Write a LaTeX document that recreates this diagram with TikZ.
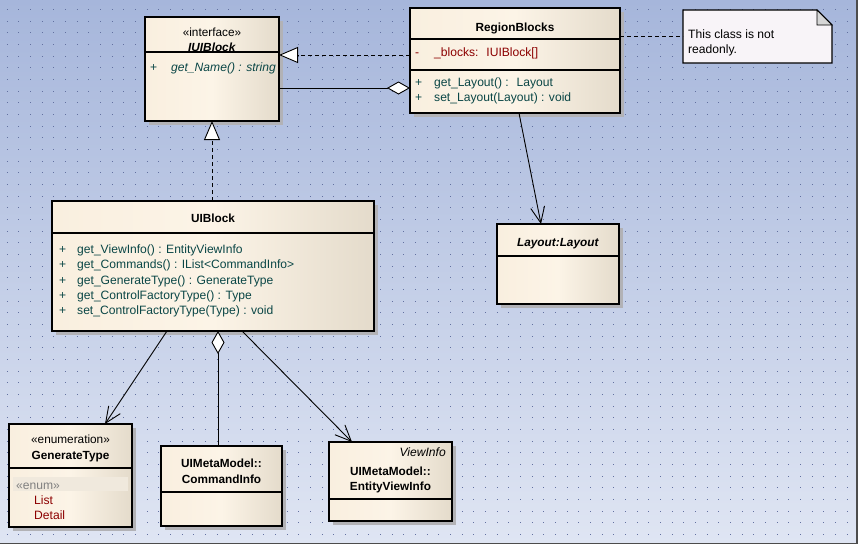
\documentclass[tikz,border=0pt]{standalone}
\usepackage{fontspec}
\setmainfont{Liberation Sans}
\usetikzlibrary{arrows.meta,shadows,calc}
\definecolor{bgT}{RGB}{166,182,219}
\definecolor{bgB}{RGB}{223,229,243}
\definecolor{dotc}{RGB}{98,112,160}
\definecolor{boxL}{RGB}{249,239,223}
\definecolor{boxM}{RGB}{252,244,231}
\definecolor{boxR}{RGB}{228,219,203}
\definecolor{shadowc}{RGB}{178,178,182}
\definecolor{opc}{RGB}{10,70,70}
\definecolor{attrc}{RGB}{140,0,0}
\definecolor{notefill}{RGB}{248,244,248}
\definecolor{foldfill}{RGB}{214,214,214}
\definecolor{enumband}{RGB}{240,233,221}
\newcommand\umlfont{\fontsize{12.1}{14}\selectfont}
\newcommand\umlbfont{\fontsize{11.8}{14}\selectfont}
\tikzset{
  classbox/.style={draw=black, line width=1.3pt, anchor=north west, inner sep=0pt, outer sep=0pt,
    left color=boxL, right color=boxR, middle color=boxM,
    drop shadow={shadow xshift=4pt, shadow yshift=-4pt, fill=shadowc, opacity=1}},
  sepline/.style={draw=black, line width=1.3pt},
  tw/.style={inner sep=0pt, anchor=base west, font=\umlfont},
  tc/.style={inner sep=0pt, anchor=base, font=\umlbfont},
  te/.style={inner sep=0pt, anchor=base east, font=\umlfont},
  conn/.style={draw=black, line width=0.9pt},
  realize/.style={conn, dash pattern=on 4pt off 3pt, -{Triangle[length=19pt,width=16pt,fill=white,line width=0.9pt]}},
  aggr/.style={conn, -{Diamond[length=23pt,width=13pt,fill=white,line width=0.9pt]}},
  assoc/.style={conn, -{Straight Barb[length=16pt,width=14pt,line width=0.9pt]}},
  notelink/.style={conn, dash pattern=on 4pt off 3pt}
}
\begin{document}
\begin{tikzpicture}[x=1pt,y=-1pt]
\useasboundingbox (0,0) rectangle (860,547);
\fill[white] (0,0) rectangle (860,547);
\shade[top color=bgT, bottom color=bgB] (0,0) rectangle (856,543);
\foreach \k in {0,...,45}
  \draw[dotc, line width=1pt, dash pattern=on 1pt off 10.667pt] (6.8,{9.33+11.667*\k}) -- (852,{9.33+11.667*\k});
\draw[line width=1.5pt, black!70] (0,543.5) -- (857,543.5) -- (857,0);

% ---------- IUIBlock
\node[classbox, minimum width=134pt, minimum height=104pt] (iuib) at (145,17) {};
\draw[sepline] (iuib.west |- 0,52) -- (iuib.east |- 0,52);
\node[tc] (iuibs) at (212,36) {«interface»};
\node[tc] (iuibn) at (212,51) {\textbf{\textit{IUIBlock}}};
\node[tw, opc] (iuibp) at (150,71) {+};
\node[tw, opc] (iuibo) at (171,71) {\textit{get\_Name() : string}};

% ---------- RegionBlocks
\node[classbox, minimum width=210pt, minimum height=105pt] (rb) at (410,8) {};
\draw[sepline] (rb.west |- 0,39) -- (rb.east |- 0,39);
\draw[sepline] (rb.west |- 0,70) -- (rb.east |- 0,70);
\node[tc] (rbn) at (515,31) {\textbf{RegionBlocks}};
\node[tw, attrc] (rbam) at (415,56) {-};
\node[tw, attrc] (rba) at (434,56) {\_blocks:~ IUIBlock[]};
\node[tw, opc] (rbp1) at (415,86) {+};
\node[tw, opc] (rbo1) at (434,86) {get\_Layout() :~ Layout};
\node[tw, opc] (rbp2) at (415,101.5) {+};
\node[tw, opc] (rbo2) at (434,101.5) {set\_Layout(Layout) : void};

% ---------- Note
\node[inner sep=0pt, outer sep=0pt, anchor=north west, minimum width=149pt, minimum height=53pt] (note) at (683,10) {};
\draw[line width=1.1pt, fill=notefill] (note.north west) -- ([xshift=-15pt]note.north east) -- ([yshift=-15pt]note.north east) -- (note.south east) -- (note.south west) -- cycle;
\draw[line width=0.8pt, fill=foldfill] ([xshift=-15pt]note.north east) -- ([xshift=-15pt,yshift=-15pt]note.north east) -- ([yshift=-15pt]note.north east) -- cycle;
\node[tw] (nt1) at (688,38) {This class is not};
\node[tw] (nt2) at (688,53) {readonly.};

% ---------- Layout
\node[classbox, minimum width=122pt, minimum height=80pt] (lay) at (497,224) {};
\draw[sepline] (lay.west |- 0,256) -- (lay.east |- 0,256);
\node[tc] (layn) at (558,246) {\textbf{\textit{Layout:Layout}}};

% ---------- UIBlock
\node[classbox, minimum width=322pt, minimum height=130pt] (uib) at (52,201) {};
\draw[sepline] (uib.west |- 0,233) -- (uib.east |- 0,233);
\node[tc] (uibn) at (213,222) {\textbf{UIBlock}};
\node[tw, opc] (up1) at (59,253) {+};
\node[tw, opc] (uo1) at (77,253) {get\_ViewInfo() : EntityViewInfo};
\node[tw, opc] (up2) at (59,268.5) {+};
\node[tw, opc] (uo2) at (77,268.5) {get\_Commands() : IList<CommandInfo>};
\node[tw, opc] (up3) at (59,284) {+};
\node[tw, opc] (uo3) at (77,284) {get\_GenerateType() : GenerateType};
\node[tw, opc] (up4) at (59,299.5) {+};
\node[tw, opc] (uo4) at (77,299.5) {get\_ControlFactoryType() : Type};
\node[tw, opc] (up5) at (59,314.5) {+};
\node[tw, opc] (uo5) at (77,314.5) {set\_ControlFactoryType(Type) : void};

% ---------- GenerateType
\node[classbox, minimum width=123pt, minimum height=103pt] (gen) at (9,424) {};
\draw[sepline] (gen.west |- 0,468) -- (gen.east |- 0,468);
\fill[enumband] (13,477) rectangle (128,491);
\node[tc] (gens) at (70.5,443) {«enumeration»};
\node[tc] (genn) at (70.5,459) {\textbf{GenerateType}};
\node[tw, black!50] (gene) at (16,489) {«enum»};
\node[tw, attrc] (gen1) at (34,504) {List};
\node[tw, attrc] (gen2) at (34,519) {Detail};

% ---------- CommandInfo
\node[classbox, minimum width=121pt, minimum height=80pt] (cmd) at (161,446) {};
\draw[sepline] (cmd.west |- 0,492) -- (cmd.east |- 0,492);
\node[tc] (cmd1) at (221.5,467) {\textbf{UIMetaModel::}};
\node[tc] (cmd2) at (221.5,483) {\textbf{CommandInfo}};

% ---------- EntityViewInfo
\node[classbox, minimum width=123pt, minimum height=79pt] (evi) at (329,442) {};
\draw[sepline] (evi.west |- 0,499) -- (evi.east |- 0,499);
\node[te] (evis) at (446,456) {\textit{ViewInfo}};
\node[tc] (evi1) at (390.5,475) {\textbf{UIMetaModel::}};
\node[tc] (evi2) at (390.5,490) {\textbf{EntityViewInfo}};

% ---------- Connectors
\draw[realize] (rb.west |- 0,55) -- (iuib.east |- 0,55);
\draw[aggr] (iuib.east |- 0,88) -- (rb.west |- 0,88);
\draw[notelink] (rb.east |- 0,36) -- (note.west |- 0,36);
\draw[assoc] (rb.south -| 519,0) -- (lay.north -| 541,0);
\draw[realize] (uib.north -| 212,0) -- (iuib.south -| 212,0);
\draw[assoc] (uib.south -| 167,0) -- (gen.north -| 105,0);
\draw[aggr] (cmd.north -| 218,0) -- (uib.south -| 218,0);
\draw[assoc] (uib.south -| 242,0) -- (evi.north -| 352,0);
\end{tikzpicture}
\end{document}
